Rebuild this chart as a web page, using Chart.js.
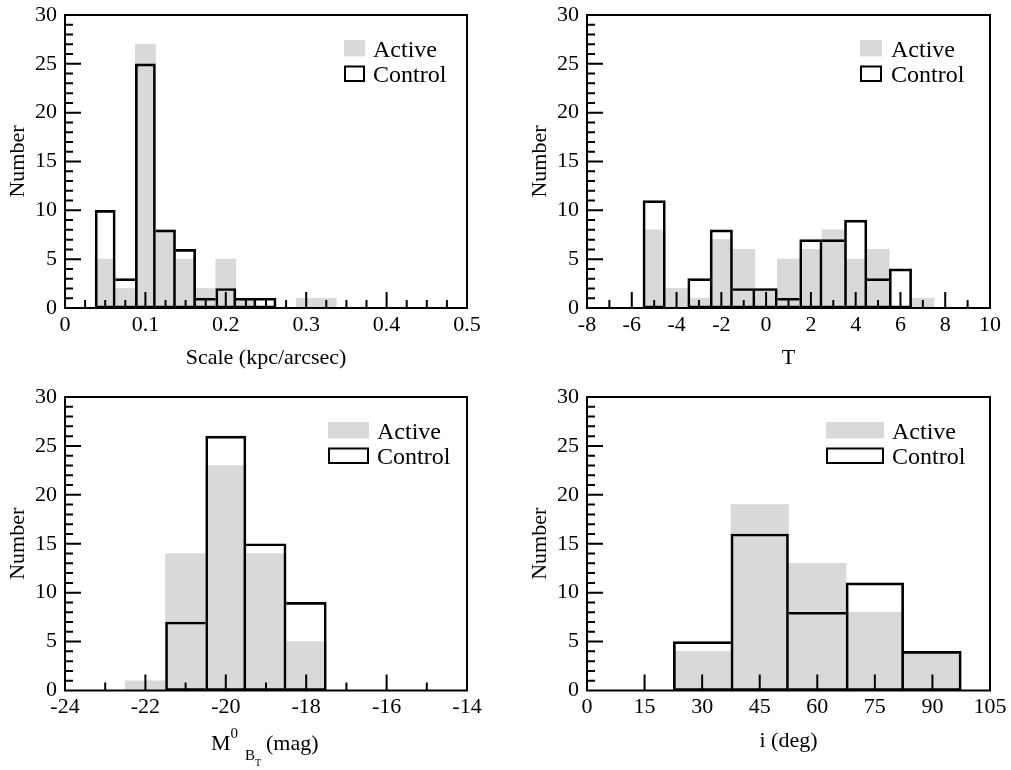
<!DOCTYPE html>
<html lang="en">
<head>
<meta charset="UTF-8">
<title>Active vs Control samples</title>
<script src="https://cdn.jsdelivr.net/npm/chart.js"></script>
<style>
  body { margin: 0; background: #fff; }
  #wrap { position: relative; width: 1011px; height: 770px; }
  canvas { position: absolute; }
</style>
</head>
<body>
<div id="wrap">
  <canvas id="cScale" width="506" height="385" style="left:0;top:0"></canvas>
  <canvas id="cType" width="505" height="385" style="left:506px;top:0"></canvas>
  <canvas id="cMag" width="506" height="385" style="left:0;top:385px"></canvas>
  <canvas id="cIncl" width="505" height="385" style="left:506px;top:385px"></canvas>
</div>
<script>
// ---- data (bin centres and counts) ----
const scaleBins    = [0.05, 0.075, 0.1, 0.125, 0.15, 0.175, 0.2, 0.225, 0.25, 0.275, 0.3, 0.325];
const scaleActive  = [5, 2, 27, 8, 5, 2, 5, 1, 0, 0, 1, 1];
const scaleControl = [10, 3, 25, 8, 6, 1, 2, 1, 1, 0, 0, 0];

const typeBins    = [-5, -4, -3, -2, -1, 0, 1, 2, 3, 4, 5, 6, 7];
const typeActive  = [8, 2, 1, 7, 6, 2, 5, 6, 8, 5, 6, 0, 1];
const typeControl = [11, 0, 3, 8, 2, 2, 1, 7, 7, 9, 3, 4, 0];

const magBins    = [-22, -21, -20, -19, -18];
const magActive  = [1, 14, 23, 14, 5];
const magControl = [0, 7, 26, 15, 9];

const inclBins    = [30, 45, 60, 75, 90];
const inclActive  = [4, 19, 13, 8, 4];
const inclControl = [5, 16, 8, 11, 4];

const GREY = '#d9d9d9';
const FONT = "'Liberation Serif', 'Times New Roman', serif";

Chart.defaults.font.family = FONT;
Chart.defaults.font.size = 22;
Chart.defaults.color = '#000';

// inward tick marks + frame around the plot
const inTicks = {
  id: 'inTicks',
  afterDatasetsDraw(chart, args, o) {
    const {ctx, chartArea: a, scales: {x, y}} = chart;
    ctx.save();
    ctx.strokeStyle = '#000';
    ctx.lineWidth = 2;
    const marks = (scale, minor, major, draw) => {
      const n = Math.round((scale.max - scale.min) / minor);
      for (let i = 1; i < n; i++) {
        const v = scale.min + i * minor;
        const r = v / major;
        const big = Math.abs(r - Math.round(r)) < 1e-6;
        draw(scale.getPixelForValue(v), big ? 16 : 8);
      }
    };
    ctx.beginPath();
    marks(x, o.xMinor, o.xMajor, (p, len) => { ctx.moveTo(p, a.bottom); ctx.lineTo(p, a.bottom - len); });
    marks(y, 1, 5, (p, len) => { ctx.moveTo(a.left, p); ctx.lineTo(a.left + len, p); });
    ctx.stroke();
    ctx.strokeRect(a.left, a.top, a.right - a.left, a.bottom - a.top);
    ctx.restore();
  }
};

// legend drawn inside the plot, top right
const boxLegend = {
  id: 'boxLegend',
  afterDraw(chart, args, o) {
    const {ctx, chartArea: a} = chart;
    const sx = a.right - o.swatchOff, tx = a.right - o.textOff;
    ctx.save();
    ctx.fillStyle = GREY;
    ctx.fillRect(sx, a.top + 25, o.swatchW, 16.5);
    ctx.fillStyle = '#fff';
    ctx.fillRect(sx, a.top + 50.5, o.swatchW, 16.5);
    ctx.strokeStyle = '#000';
    ctx.lineWidth = 2;
    ctx.strokeRect(sx + 1, a.top + 51.5, o.swatchW - 2, 14.5);
    ctx.fillStyle = '#000';
    ctx.font = '24px ' + FONT;
    ctx.textBaseline = 'alphabetic';
    ctx.fillText(chart.data.datasets[0].label, tx, a.top + 41.5);
    ctx.fillText(chart.data.datasets[1].label, tx, a.top + 67);
    ctx.restore();
  }
};

// M^0_{B_T} (mag) axis title
const magTitle = {
  id: 'magTitle',
  afterDraw(chart) {
    const {ctx, chartArea: a} = chart;
    const x0 = (a.left + a.right) / 2 - 55;
    const b = a.bottom;
    ctx.save();
    ctx.fillStyle = '#000';
    ctx.textBaseline = 'alphabetic';
    ctx.font = '22px ' + FONT;
    ctx.fillText('M', x0, b + 59.5);
    const wM = ctx.measureText('M').width;
    ctx.fillText('(mag)', x0 + 55, b + 59.5);
    ctx.font = '15px ' + FONT;
    ctx.fillText('0', x0 + wM, b + 47);
    ctx.fillText('B', x0 + 34, b + 69.5);
    ctx.font = '10px ' + FONT;
    ctx.fillText('T', x0 + 44, b + 75.5);
    ctx.restore();
  }
};

function borderFor(values) {
  return c => {
    const i = c.dataIndex;
    const cur = values[i] || 0, prev = values[i - 1] || 0, next = values[i + 1] || 0;
    return {top: 2, bottom: 2, left: (prev >= cur && prev > 0) ? 0 : 2, right: next > cur ? 0 : 2};
  };
}

function noPad(s) {
  s.paddingTop = 0; s.paddingBottom = 0; s.paddingLeft = 0; s.paddingRight = 0;
}

function hist(id, cfg) {
  const pts = vals => cfg.bins.map((b, i) => ({x: b, y: vals[i] > 0 ? vals[i] : null}));
  new Chart(document.getElementById(id), {
    type: 'bar',
    data: {
      datasets: [
        {label: 'Active', data: pts(cfg.active), backgroundColor: GREY, borderWidth: 0,
         grouped: false, order: 2, barPercentage: 1, categoryPercentage: 1},
        {label: 'Control', data: pts(cfg.control), backgroundColor: 'rgba(0,0,0,0)', borderColor: '#000',
         borderWidth: borderFor(cfg.control), borderSkipped: false,
         grouped: false, order: 1, barPercentage: 1, categoryPercentage: 1}
      ]
    },
    options: {
      responsive: false,
      animation: false,
      layout: {padding: cfg.pad},
      plugins: {
        legend: {display: false},
        tooltip: {enabled: false},
        inTicks: {xMinor: cfg.xMinor, xMajor: cfg.xMajor},
        boxLegend: cfg.legend
      },
      scales: {
        x: {
          type: 'linear', min: cfg.xMin, max: cfg.xMax, offset: false,
          grid: {display: false, drawTicks: false, offset: false},
          border: {display: false},
          ticks: {stepSize: cfg.xStep, padding: 4, maxRotation: 0, autoSkip: false},
          title: {display: !!cfg.xTitle, text: cfg.xTitle, padding: {top: 0, bottom: cfg.xTitlePad}},
          afterFit: s => { s.height = cfg.xH; noPad(s); }
        },
        y: {
          min: 0, max: 30,
          grid: {display: false, drawTicks: false},
          border: {display: false},
          ticks: {stepSize: 5, padding: 8},
          title: {display: true, text: 'Number', padding: {top: cfg.yTitlePad, bottom: 0}},
          afterFit: s => { s.width = cfg.yW; noPad(s); }
        }
      }
    },
    plugins: cfg.extra ? [inTicks, boxLegend, cfg.extra] : [inTicks, boxLegend]
  });
}

hist('cScale', {
  bins: scaleBins, active: scaleActive, control: scaleControl,
  xMin: 0, xMax: 0.5, xStep: 0.1, xMinor: 0.025, xMajor: 0.1,
  xTitle: 'Scale (kpc/arcsec)', xTitlePad: 14, xH: 77, yW: 65, yTitlePad: 5,
  pad: {left: 0, top: 15, right: 39, bottom: 0},
  legend: {swatchOff: 123, swatchW: 21, textOff: 94}
});

hist('cType', {
  bins: typeBins, active: typeActive, control: typeControl,
  xMin: -8, xMax: 10, xStep: 2, xMinor: 1, xMajor: 2,
  xTitle: 'T', xTitlePad: 14, xH: 77, yW: 81, yTitlePad: 21,
  pad: {left: 0, top: 15, right: 21, bottom: 0},
  legend: {swatchOff: 130, swatchW: 22, textOff: 99}
});

hist('cMag', {
  bins: magBins, active: magActive, control: magControl,
  xMin: -24, xMax: -14, xStep: 2, xMinor: 1, xMajor: 2,
  xTitle: '', xTitlePad: 16, xH: 79.5, yW: 65, yTitlePad: 5,
  pad: {left: 0, top: 12, right: 39, bottom: 0},
  legend: {swatchOff: 139, swatchW: 41, textOff: 90},
  extra: magTitle
});

hist('cIncl', {
  bins: inclBins, active: inclActive, control: inclControl,
  xMin: 0, xMax: 105, xStep: 15, xMinor: 15, xMajor: 15,
  xTitle: 'i (deg)', xTitlePad: 16, xH: 79.5, yW: 81, yTitlePad: 21,
  pad: {left: 0, top: 12, right: 21, bottom: 0},
  legend: {swatchOff: 164, swatchW: 58, textOff: 98}
});
</script>
</body>
</html>
